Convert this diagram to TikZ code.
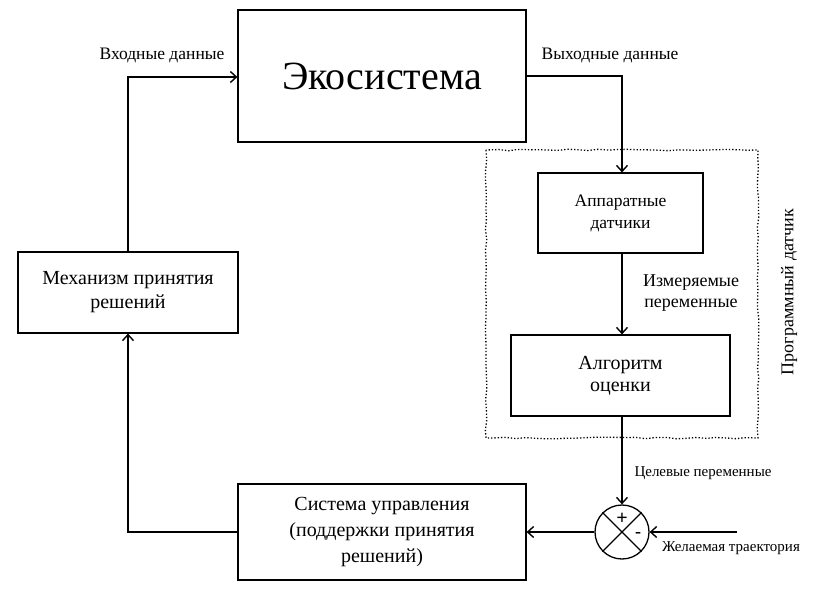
\documentclass[tikz,border=0pt]{standalone}
\usepackage{fontspec}
\setmainfont{Liberation Serif}
\usetikzlibrary{arrows.meta,decorations.pathmorphing}
\begin{document}
\begin{tikzpicture}[x=1pt,y=-1pt,
  box/.style={draw,line width=1.2pt,rectangle,align=center,inner sep=0pt},
  conn/.style={line width=1.4pt,-{Straight Barb[length=6pt,width=11pt,line width=1.4pt]}},
  lbl/.style={font=\fontsize{17.5}{20}\selectfont,align=center,inner sep=0pt},
  slbl/.style={font=\fontsize{15}{17}\selectfont,align=center,inner sep=0pt},
  btxt/.style={font=\fontsize{20}{26}\selectfont}]
\useasboundingbox (0,0) rectangle (834,592);
% dotted frame
\draw[dotted,line width=1.3pt,decorate,decoration={random steps,segment length=10pt,amplitude=0.8pt}]
  (486,150) rectangle (758,438);
\node[box,minimum width=288,minimum height=132,font=\fontsize{40}{44}\selectfont] (eco) at (382,76) {Экосистема};
\node[box,minimum width=165,minimum height=80,font=\fontsize{17.5}{22}\selectfont] (hw) at (620.5,213) {Аппаратные\\датчики};
\node[box,minimum width=219,minimum height=81,font=\fontsize{20}{22}\selectfont] (alg) at (620.5,375.5) {Алгоритм\\оценки};
\node[box,minimum width=288,minimum height=96,btxt] (ctl) at (382,532) {Система управления\\(поддержки принятия\\решений)};
\node[box,minimum width=220,minimum height=81,font=\fontsize{20}{24}\selectfont] (mech) at (128,292.5) {Механизм принятия\\решений};
\node[draw,circle,line width=1.3pt,minimum size=54,inner sep=0pt] (sum) at (622,532) {};
\draw[line width=1.2pt] (sum.north west) -- (sum.south east);
\draw[line width=1.2pt] (sum.north east) -- (sum.south west);
\node[font=\fontsize{20}{20}\selectfont\bfseries,inner sep=0pt] (plus) at (622,519) {+};
\node[font=\fontsize{18}{18}\selectfont\bfseries,inner sep=0pt] (minus) at (638,535) {-};
\coordinate (des) at (737,532);
\coordinate (inc) at (128,77);
\coordinate (outc) at (622,76);
\coordinate (ctlc) at (128,532);
% connectors
\draw[conn] (mech.north) -- (inc) -- (eco.west |- inc);
\draw[conn] (eco.east |- outc) -- (outc) -- (outc |- hw.north);
\draw[conn] (hw.south -| outc) -- (outc |- alg.north);
\draw[conn] (alg.south -| outc) -- (sum.north);
\draw[conn] (des) -- (sum.east);
\draw[conn] (sum.west) -- (ctl.east);
\draw[conn] (ctl.west) -- (ctlc) -- (mech.south);
% labels
\node[lbl] (lin) at (162,55) {Входные данные};
\node[lbl] (lout) at (610,55) {Выходные данные};
\node[lbl,font=\fontsize{18}{21}\selectfont] (lmeas) at (691,293) {Измеряемые\\переменные};
\node[slbl] (ltgt) at (703,473) {Целевые переменные};
\node[slbl] (ldes) at (731,548) {Желаемая траектория};
\node[lbl,rotate=90,font=\fontsize{18}{20}\selectfont] (lsoft) at (789,292) {Программный датчик};
\end{tikzpicture}
\end{document}
